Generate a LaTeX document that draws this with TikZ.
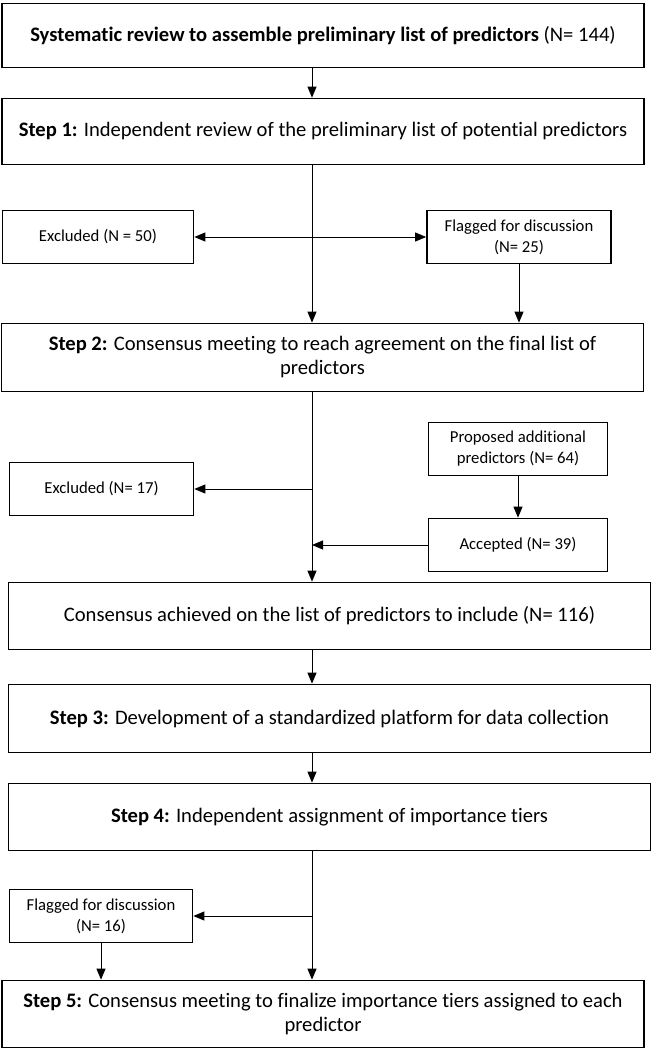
\documentclass[tikz,border=0pt]{standalone}
\usepackage{fontspec}
\setmainfont{Carlito}[Ligatures=CommonOff]
\usetikzlibrary{positioning}
\usetikzlibrary{arrows.meta}

\begin{document}
\begin{tikzpicture}[x=1pt, y=-1pt,
    bigbox/.style={draw, line width=1.7pt, align=center, inner sep=0pt, minimum width=642pt, font=\fontsize{20.6}{24}\selectfont},
    smallbox/.style={draw, line width=1.7pt, align=center, inner sep=0pt, minimum height=53pt, font=\fontsize{16.7}{21}\selectfont},
    link/.style={line width=0.9pt},
    arr/.style={link, -{Triangle[length=11pt,width=9pt]}},
    dblarr/.style={link, {Triangle[length=11pt,width=9pt]}-{Triangle[length=11pt,width=9pt]}}]
    \newcommand\Spine{312}

    \useasboundingbox (0,0) rectangle (653,1050);

    % Main column
    \node[bigbox, minimum height=64pt] (review) at (323,35.5) {\textbf{Systematic review to assemble preliminary list of predictors} (N= 144)};
    \node[bigbox, minimum height=66pt] (step1) at (323,131.5) {\textbf{Step 1:} Independent review of the preliminary list of potential predictors};
    \node[bigbox, minimum height=68pt] (step2) at (322.5,357.5) {\textbf{Step 2:} Consensus meeting to reach agreement on the final list of\\predictors};
    \node[bigbox, minimum height=67pt] (agreed) at (329.5,616) {Consensus achieved on the list of predictors to include (N= 116)};
    \node[bigbox, minimum height=68pt] (step3) at (329.5,718.5) {\textbf{Step 3:} Development of a standardized platform for data collection};
    \node[bigbox, minimum height=67pt] (step4) at (329.5,817) {\textbf{Step 4:} Independent assignment of importance tiers};
    \node[bigbox, minimum height=67pt] (step5) at (323,1014) {\textbf{Step 5:} Consensus meeting to finalize importance tiers assigned to each\\predictor};

    % Side boxes
    \node[smallbox, minimum width=191pt] (excl1) at (98,237) {Excluded (N = 50)};
    \node[smallbox, minimum width=184pt] (flag1) at (519,237) {Flagged for discussion\\(N= 25)};
    \node[smallbox, minimum width=179pt] (extra) at (518,449) {Proposed additional\\predictors (N= 64)};
    \node[smallbox, minimum width=184pt] (excl2) at (101.5,489) {Excluded (N= 17)};
    \node[smallbox, minimum width=179pt] (accepted) at (518,545) {Accepted (N= 39)};
    \node[smallbox, minimum width=183pt] (flag2) at (101,916) {Flagged for discussion\\(N= 16)};

    % Connectors
    \coordinate (spine) at (\Spine,0);
    \draw[arr] (review.south -| spine) -- (step1.north -| spine);
    \draw[arr] (step1.south -| spine) -- (step2.north -| spine);
    \draw[dblarr] (excl1.east) -- (flag1.west);
    \draw[arr] (flag1.south) -- (flag1.south |- step2.north);
    \draw[arr] (step2.south -| spine) -- (agreed.north -| spine);
    \draw[arr] (excl2.east -| spine) -- (excl2.east);
    \draw[arr] (extra.south) -- (accepted.north);
    \draw[arr] (accepted.west) -- (accepted.west -| spine);
    \draw[arr] (agreed.south -| spine) -- (step3.north -| spine);
    \draw[arr] (step3.south -| spine) -- (step4.north -| spine);
    \draw[arr] (step4.south -| spine) -- (step5.north -| spine);
    \draw[arr] (flag2.east -| spine) -- (flag2.east);
    \draw[arr] (flag2.south) -- (flag2.south |- step5.north);

\end{tikzpicture}
\end{document}
